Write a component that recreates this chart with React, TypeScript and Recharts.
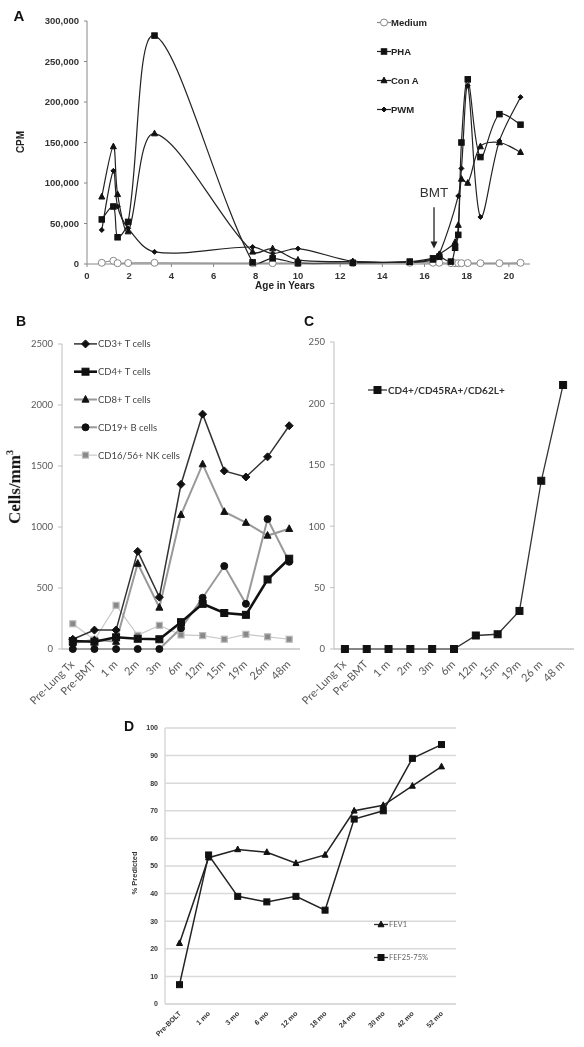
import React from 'react';
import { LineChart, Line, XAxis, YAxis, CartesianGrid, Legend, ReferenceLine } from 'recharts';

// ---------- Panel A: proliferation (CPM) vs age
const ageYears = [0.7, 1.25, 1.45, 1.95, 3.2, 7.85, 8.8, 10.0, 12.6, 15.3, 16.4, 16.7, 17.25, 17.45, 17.6, 17.75, 18.05, 18.65, 19.55, 20.55];
const mediumCpm = [1500, 4000, 1000, 1200, 1500, 1000, 1000, 1000, 1000, 1500, 1500, 1500, 1000, 1000, 1000, 1000, 1200, 1000, 1000, 1500];
const phaCpm = [55000, 71000, 33000, 52000, 282000, 2000, 7000, 1000, 1500, 3000, 7000, 9000, 3000, 20000, 36000, 150000, 228000, 132000, 185000, 172000];
const conACpm = [83000, 145000, 86000, 40000, 161000, 15000, 19000, 5000, 3000, 2000, 5000, 12000, null, 27000, 48000, 105000, 100000, 145000, 150000, 138000];
const pwmCpm = [42000, 115000, 71000, 44000, 15000, 21000, 13000, 19000, 3500, 2500, 6000, 12000, null, null, 84000, 118000, 220000, 58000, 152000, 206000];
const cpmTicks = [0, 50000, 100000, 150000, 200000, 250000, 300000];
const ageTicks = [0, 2, 4, 6, 8, 10, 12, 14, 16, 18, 20];

// ---------- Panel B: lymphocyte subsets
const subsetCats = ['Pre-Lung Tx', 'Pre-BMT', '1 m', '2m', '3m', '6m', '12m', '15m', '19m', '26m', '48m'];
const cd3 = [80, 155, 155, 800, 425, 1350, 1925, 1460, 1410, 1575, 1830];
const cd4 = [65, 60, 96, 84, 80, 220, 370, 295, 280, 570, 740];
const cd8 = [50, 75, 60, 700, 340, 1100, 1515, 1125, 1035, 930, 985];
const cd19 = [0, 0, 0, 0, 0, 170, 420, 680, 370, 1065, 715];
const nk = [207, 74, 358, 112, 194, 115, 110, 80, 120, 100, 80];
const cellTicks = [0, 500, 1000, 1500, 2000, 2500];

// ---------- Panel C: naive CD4
const naiveCats = ['Pre-Lung Tx', 'Pre-BMT', '1 m', '2m', '3m', '6m', '12m', '15m', '19m', '26 m', '48 m'];
const naiveCd4 = [0, 0, 0, 0, 0, 0, 11, 12, 31, 137, 215];
const naiveTicks = [0, 50, 100, 150, 200, 250];

// ---------- Panel D: lung function
const pftCats = ['Pre-BOLT', '1 mo', '3 mo', '6 mo', '12 mo', '18 mo', '24 mo', '30 mo', '42 mo', '52 mo'];
const fev1 = [22, 53, 56, 55, 51, 54, 70, 72, 79, 86];
const fef2575 = [7, 54, 39, 37, 39, 34, 67, 70, 89, 94];
const pctTicks = [0, 10, 20, 30, 40, 50, 60, 70, 80, 90, 100];

const dataA = ageYears.map((x, i) => ({ x, medium: mediumCpm[i], pha: phaCpm[i], conA: conACpm[i], pwm: pwmCpm[i] }));
const dataB = subsetCats.map((cat, i) => ({ cat, cd3: cd3[i], cd4: cd4[i], cd8: cd8[i], cd19: cd19[i], nk: nk[i] }));
const dataC = naiveCats.map((cat, i) => ({ cat, v: naiveCd4[i] }));
const dataD = pftCats.map((cat, i) => ({ cat, fev1: fev1[i], fef: fef2575[i] }));

const ARIAL = '"Liberation Sans", Arial, sans-serif';
const CALIBRI = 'Lato, "Open Sans", sans-serif';

// Excel-like smoothing: tangent from neighbours, scaled by segment lengths
const excelSmooth = (context: any) => {
  let pts: number[][] = [];
  const dist = (a: number[], b: number[]) => Math.hypot(b[0] - a[0], b[1] - a[1]) || 1e-6;
  return {
    areaStart() {},
    areaEnd() {},
    lineStart() { pts = []; },
    point(x: number, y: number) { pts.push([+x, +y]); },
    lineEnd() {
      const n = pts.length;
      if (!n) return;
      context.moveTo(pts[0][0], pts[0][1]);
      for (let i = 0; i < n - 1; i++) {
        const p0 = pts[i - 1] || pts[i];
        const p1 = pts[i];
        const p2 = pts[i + 1];
        const p3 = pts[i + 2] || p2;
        const d01 = i > 0 ? dist(p0, p1) : 0;
        const d12 = dist(p1, p2);
        const d23 = i + 2 < n ? dist(p2, p3) : 0;
        const f1 = i > 0 ? (2 * d12) / (d01 + d12) / 6 : 1 / 6;
        const f2 = i + 2 < n ? (2 * d12) / (d12 + d23) / 6 : 1 / 6;
        context.bezierCurveTo(
          p1[0] + (p2[0] - p0[0]) * f1, p1[1] + (p2[1] - p0[1]) * f1,
          p2[0] - (p3[0] - p1[0]) * f2, p2[1] - (p3[1] - p1[1]) * f2,
          p2[0], p2[1]
        );
      }
    },
  };
};

const Marker = ({ cx, cy, kind, size, fill, stroke, strokeWidth = 1 }: any) => {
  if (cx == null || cy == null || isNaN(cy)) return <g />;
  const h = size / 2;
  if (kind === 'square') return <rect x={cx - h} y={cy - h} width={size} height={size} fill={fill} stroke={stroke} strokeWidth={strokeWidth} />;
  if (kind === 'triangle') return <path d={`M${cx},${cy - h * 1.15}L${cx + h},${cy + h * 0.75}L${cx - h},${cy + h * 0.75}Z`} fill={fill} stroke={stroke} strokeWidth={strokeWidth} />;
  if (kind === 'diamond') return <path d={`M${cx},${cy - h}L${cx + h},${cy}L${cx},${cy + h}L${cx - h},${cy}Z`} fill={fill} stroke={stroke} strokeWidth={strokeWidth} />;
  return <circle cx={cx} cy={cy} r={h} fill={fill} stroke={stroke} strokeWidth={strokeWidth} />;
};

const dotOf = (kind: string, size: number, fill: string, stroke: string, sw = 1) => (p: any) => (
  <Marker key={`${kind}-${p.index}`} cx={p.cx} cy={p.value == null ? null : p.cy} kind={kind} size={size} fill={fill} stroke={stroke} strokeWidth={sw} />
);

const LegendRows = ({ items, gap, lineW, textX, width, fontSize, fontFamily, fontWeight, color }: any) => (
  <svg width={width} height={items.length * gap} style={{ display: 'block', overflow: 'visible' }}>
    {items.map((it: any, i: number) => {
      const y = i * gap + gap / 2;
      return (
        <g key={it.name}>
          <line x1={0} x2={lineW} y1={y} y2={y} stroke={it.stroke} strokeWidth={it.lw} />
          <Marker cx={lineW / 2} cy={y} kind={it.kind} size={it.size} fill={it.fill} stroke={it.mstroke} strokeWidth={it.msw ?? 1} />
          <text x={textX} y={y} dominantBaseline="central" fontSize={fontSize} fontFamily={fontFamily} fontWeight={fontWeight} fill={color}>{it.name}</text>
        </g>
      );
    })}
  </svg>
);

const SlantTick = ({ x, y, payload, dx = 0, dy = 0, size, family, weight, textFill }: any) => {
  const tx = x + dx;
  const ty = y + dy;
  return (
    <text x={tx} y={ty} transform={`rotate(-45 ${tx} ${ty})`} textAnchor="end" fontSize={size} fontFamily={family} fontWeight={weight} fill={textFill}>
      {payload.value}
    </text>
  );
};

const Txt = ({ x, y, rot = 0, size, family = ARIAL, weight = 'bold', color = '#111', children }: any) => (
  <div style={{ position: 'absolute', left: x, top: y, transform: `translate(-50%, -50%) rotate(${rot}deg)`, whiteSpace: 'nowrap', fontSize: size, fontFamily: family, fontWeight: weight, color, lineHeight: 1 }}>
    {children}
  </div>
);

const BmtArrow = (props: any) => {
  const { x1, y1, x2, y2 } = props;
  return (
    <g>
      <line x1={x1} y1={y1} x2={x2} y2={y2 - 5} stroke="#222" strokeWidth={1.3} />
      <path d={`M${x2 - 3.5},${y2 - 7}L${x2 + 3.5},${y2 - 7}L${x2},${y2}Z`} fill="#222" />
      <text x={x1} y={y1 - 10} textAnchor="middle" fontSize={13.5} fontFamily={ARIAL} fill="#333">BMT</text>
    </g>
  );
};

const legendA = [
  { name: 'Medium', kind: 'circle', size: 7, fill: '#fff', mstroke: '#888', stroke: '#888', lw: 1.2 },
  { name: 'PHA', kind: 'square', size: 5.5, fill: '#111', mstroke: '#111', stroke: '#222', lw: 1.2 },
  { name: 'Con A', kind: 'triangle', size: 6, fill: '#111', mstroke: '#111', stroke: '#222', lw: 1.2 },
  { name: 'PWM', kind: 'diamond', size: 5, fill: '#111', mstroke: '#111', stroke: '#222', lw: 1.2 },
];

const legendB = [
  { name: 'CD3+ T cells', kind: 'diamond', size: 8, fill: '#111', mstroke: '#111', stroke: '#333', lw: 1.5 },
  { name: 'CD4+ T cells', kind: 'square', size: 7, fill: '#111', mstroke: '#111', stroke: '#111', lw: 2.6 },
  { name: 'CD8+ T cells', kind: 'triangle', size: 7, fill: '#111', mstroke: '#111', stroke: '#999', lw: 2 },
  { name: 'CD19+ B cells', kind: 'circle', size: 7, fill: '#111', mstroke: '#111', stroke: '#999', lw: 2 },
  { name: 'CD16/56+ NK cells', kind: 'square', size: 6, fill: '#888', mstroke: '#bbb', stroke: '#c8c8c8', lw: 1.2, msw: 1.2 },
];

const legendC = [{ name: 'CD4+/CD45RA+/CD62L+', kind: 'square', size: 7, fill: '#111', mstroke: '#111', stroke: '#333', lw: 1.3 }];

const legendD = [
  { name: 'FEV1', kind: 'triangle', size: 6, fill: '#111', mstroke: '#111', stroke: '#333', lw: 1.3 },
  { name: 'FEF25-75%', kind: 'square', size: 6, fill: '#111', mstroke: '#111', stroke: '#333', lw: 1.3 },
];

// transparent composited layer -> grayscale text antialiasing
const layer = (left: number, top: number): React.CSSProperties => ({ position: 'absolute', left, top, willChange: 'transform' });

const App = () => {
  const aTick = { fontSize: 9.5, fontFamily: ARIAL, fontWeight: 'bold', fill: '#333' };
  const bTick = { fontSize: 9.5, fontFamily: CALIBRI, fill: '#595959' };
  const dTick = { fontSize: 7, fontFamily: ARIAL, fontWeight: 'bold', fill: '#333' };

  return (
    <div style={{ position: 'absolute', left: 0, top: 0, width: 584, height: 1047, background: '#fff', overflow: 'hidden' }}>
      {/* Panel A */}
      <div style={layer(0, 0)}>
        <LineChart width={584} height={300} data={dataA} margin={{ top: 21, right: 54, bottom: 14, left: 0 }}>
          <XAxis type="number" dataKey="x" domain={[0, 21]} ticks={ageTicks} allowDataOverflow
            axisLine={{ stroke: '#888' }} tickLine={{ stroke: '#888' }} tickSize={3} tickMargin={5} height={22} tick={aTick} />
          <YAxis type="number" domain={[0, 300000]} ticks={cpmTicks} width={87}
            tickFormatter={(v: number) => v.toLocaleString('en-US')}
            axisLine={{ stroke: '#888' }} tickLine={{ stroke: '#888' }} tickSize={3} tickMargin={5} tick={aTick} />
          <Legend layout="vertical" align="center" verticalAlign="middle" wrapperStyle={{ left: 377, top: 8, width: 110 }}
            content={() => <LegendRows items={legendA} gap={29} lineW={14} textX={14} width={110} fontSize={9.5} fontFamily={ARIAL} fontWeight="bold" color="#222" />} />
          <ReferenceLine segment={[{ x: 16.45, y: 70000 }, { x: 16.45, y: 19000 }]} shape={<BmtArrow />} ifOverflow="visible" />
          <Line dataKey="medium" type={excelSmooth as any} stroke="#888" strokeWidth={1.2} isAnimationActive={false}
            dot={dotOf('circle', 7, '#fff', '#888')} activeDot={false} />
          <Line dataKey="pha" type={excelSmooth as any} stroke="#222" strokeWidth={1.2} isAnimationActive={false} connectNulls
            dot={dotOf('square', 5.5, '#111', '#111')} activeDot={false} />
          <Line dataKey="conA" type={excelSmooth as any} stroke="#222" strokeWidth={1.2} isAnimationActive={false} connectNulls
            dot={dotOf('triangle', 6, '#111', '#111')} activeDot={false} />
          <Line dataKey="pwm" type={excelSmooth as any} stroke="#222" strokeWidth={1.2} isAnimationActive={false} connectNulls
            dot={dotOf('diamond', 5, '#111', '#111')} activeDot={false} />
        </LineChart>
      </div>
      <Txt x={19} y={15} size={15}>A</Txt>
      <Txt x={21} y={142} rot={-90} size={10} color="#222">CPM</Txt>
      <Txt x={285} y={286} size={10} color="#222">Age in Years</Txt>

      {/* Panel B */}
      <div style={layer(0, 330)}>
        <LineChart width={300} height={390} data={dataB} margin={{ top: 14, right: 0, bottom: 1, left: 0 }} style={{ overflow: 'visible' }}>
          <XAxis dataKey="cat" interval={0} padding={{ left: 10.8, right: 10.8 }} height={70}
            axisLine={{ stroke: '#a6a6a6' }} tickLine={false} tickSize={0} tickMargin={0}
            tick={<SlantTick dx={2} dy={16} size={11} family={CALIBRI} textFill="#595959" />} />
          <YAxis type="number" domain={[0, 2500]} ticks={cellTicks} width={62}
            axisLine={{ stroke: '#bfbfbf' }} tickLine={{ stroke: '#bfbfbf' }} tickSize={4} tickMargin={5} tick={bTick} />
          <Legend layout="vertical" align="center" verticalAlign="middle" wrapperStyle={{ left: 74, top: 0.4, width: 140 }}
            content={() => <LegendRows items={legendB} gap={27.8} lineW={23} textX={24} width={140} fontSize={9.5} fontFamily={CALIBRI} color="#444" />} />
          <Line dataKey="nk" type="linear" stroke="#c8c8c8" strokeWidth={1.2} isAnimationActive={false}
            dot={dotOf('square', 6, '#888', '#bbb', 1.2)} activeDot={false} />
          <Line dataKey="cd19" type="linear" stroke="#999" strokeWidth={2} isAnimationActive={false}
            dot={dotOf('circle', 7, '#111', '#111')} activeDot={false} />
          <Line dataKey="cd8" type="linear" stroke="#999" strokeWidth={2} isAnimationActive={false}
            dot={dotOf('triangle', 7, '#111', '#111')} activeDot={false} />
          <Line dataKey="cd4" type="linear" stroke="#111" strokeWidth={2.6} isAnimationActive={false}
            dot={dotOf('square', 7, '#111', '#111')} activeDot={false} />
          <Line dataKey="cd3" type="linear" stroke="#333" strokeWidth={1.5} isAnimationActive={false}
            dot={dotOf('diamond', 8, '#111', '#111')} activeDot={false} />
        </LineChart>
      </div>
      <Txt x={21} y={321} size={14}>B</Txt>
      <Txt x={14} y={487} rot={-90} size={17} family='"Liberation Serif", "Times New Roman", serif' color="#111">
        Cells/mm<sup style={{ fontSize: 10 }}>3</sup>
      </Txt>

      {/* Panel C */}
      <div style={layer(290, 330)}>
        <LineChart width={290} height={390} data={dataC} margin={{ top: 12, right: 6, bottom: 1, left: 0 }} style={{ overflow: 'visible' }}>
          <XAxis dataKey="cat" interval={0} padding={{ left: 10.9, right: 10.9 }} height={70}
            axisLine={{ stroke: '#a6a6a6' }} tickLine={false} tickSize={0} tickMargin={0}
            tick={<SlantTick dx={2} dy={16} size={11} family={CALIBRI} textFill="#595959" />} />
          <YAxis type="number" domain={[0, 250]} ticks={naiveTicks} width={44}
            axisLine={{ stroke: '#bfbfbf' }} tickLine={{ stroke: '#bfbfbf' }} tickSize={4} tickMargin={5} tick={bTick} />
          <Legend layout="vertical" align="center" verticalAlign="middle" wrapperStyle={{ left: 77.7, top: 53.3, width: 150 }}
            content={() => <LegendRows items={legendC} gap={14} lineW={19} textX={20} width={150} fontSize={10} fontFamily={CALIBRI} fontWeight="bold" color="#333" />} />
          <Line dataKey="v" type="linear" stroke="#333" strokeWidth={1.3} isAnimationActive={false}
            dot={dotOf('square', 7, '#111', '#111')} activeDot={false} />
        </LineChart>
      </div>
      <Txt x={309} y={321} size={14}>C</Txt>

      {/* Panel D */}
      <div style={layer(100, 710)}>
        <LineChart width={370} height={337} data={dataD} margin={{ top: 18, right: 14, bottom: 0, left: 0 }}>
          <CartesianGrid vertical={false} stroke="#d9d9d9" strokeWidth={1.5} />
          <XAxis dataKey="cat" interval={0} padding={{ left: 14.5, right: 14.5 }} height={43}
            axisLine={{ stroke: '#d9d9d9', strokeWidth: 1.5 }} tickLine={false} tickSize={0} tickMargin={0}
            tick={<SlantTick dx={2} dy={10} size={7} family={ARIAL} weight="bold" textFill="#333" />} />
          <YAxis type="number" domain={[0, 100]} ticks={pctTicks} width={65}
            axisLine={{ stroke: '#d9d9d9', strokeWidth: 1.5 }} tickLine={false} tickSize={0} tickMargin={7} tick={dTick} />
          <Legend layout="vertical" align="center" verticalAlign="middle" wrapperStyle={{ left: 274, top: 197.5, width: 90 }}
            content={() => <LegendRows items={legendD} gap={33} lineW={14} textX={15} width={90} fontSize={7.5} fontFamily={CALIBRI} color="#666" />} />
          <Line dataKey="fev1" type="linear" stroke="#222" strokeWidth={1.5} isAnimationActive={false}
            dot={dotOf('triangle', 6, '#111', '#111')} activeDot={false} />
          <Line dataKey="fef" type="linear" stroke="#222" strokeWidth={1.5} isAnimationActive={false}
            dot={dotOf('square', 6, '#111', '#111')} activeDot={false} />
        </LineChart>
      </div>
      <Txt x={129} y={726} size={14}>D</Txt>
      <Txt x={135} y={873} rot={-90} size={7.5} color="#333">% Predicted</Txt>
    </div>
  );
};

export default App;
